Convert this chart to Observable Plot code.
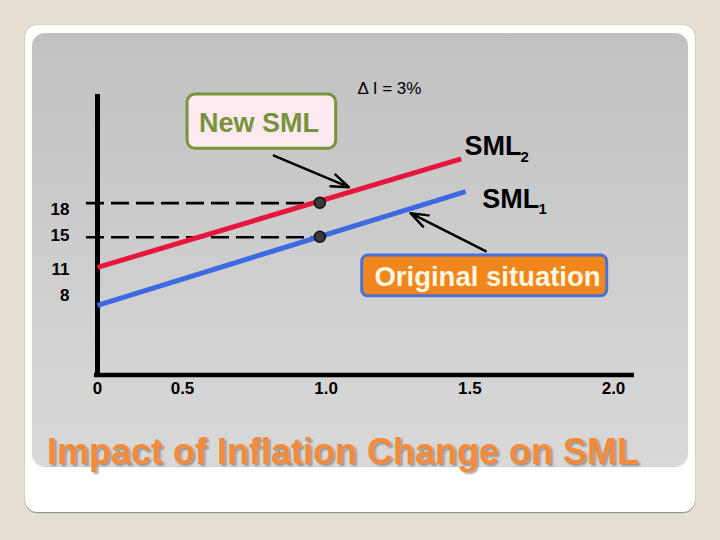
<!DOCTYPE html>
<html>
<head>
<meta charset="utf-8">
<script src="https://cdn.jsdelivr.net/npm/d3@7"></script>
<script src="https://cdn.jsdelivr.net/npm/@observablehq/plot@0.6"></script>
<style>
  body { margin: 0; }
  #slide { position: relative; width: 720px; height: 540px; background: #e4ded3; overflow: hidden; font-family: "Liberation Sans", Arial, sans-serif; }
  #card { position: absolute; left: 25px; top: 25px; width: 670px; height: 487px; background: #ffffff; border-radius: 12px; box-shadow: 0 1px 1px rgba(0,0,0,0.35), 0 0 1px rgba(0,0,0,0.3); }
  #panel { position: absolute; left: 32px; top: 33px; width: 656px; height: 433px; border-radius: 13px; background: linear-gradient(to bottom, #c1c1c1, #d9d9d9); box-shadow: 0 1px 1px rgba(0,0,0,0.2); }
  #chart { position: absolute; left: 0; top: 0; }
  #title { position: absolute; left: 47px; top: 434px; font-size: 36px; line-height: 36px; font-weight: bold; color: #f38b3b; text-shadow: 2px 2px 2px rgba(70,70,70,0.45); white-space: nowrap; }
</style>
</head>
<body>
<div id="slide">
  <div id="card"></div>
  <div id="panel"></div>
  <div id="chart"></div>
  <div id="title">Impact of Inflation Change on SML</div>
</div>
<script>
// ---- data (beta on x, required return % on y) ----
const xTicks = [0, 0.5, 1, 1.5, 2];
const xTickLabels = ["0", "0.5", "1.0", "1.5", "2.0"];
const yTicks = [8, 11, 15, 18];

const sml1 = [ { beta: 0, r: 6.9 }, { beta: 1.485, r: 20.1 } ];   // original SML (blue)
const sml2 = [ { beta: 0, r: 11.3 }, { beta: 1.47, r: 23.9 } ];   // new SML (red)
const points = [ { beta: 0.978, r: 18.8 }, { beta: 0.978, r: 14.85 } ];
const guides = [ { from: -0.065, to: 0.978, r: 18.75 }, { from: -0.065, to: 0.978, r: 14.8 } ];

// annotations (data coordinates)
const newSmlBox = [ { x1: 0.5176, x2: 1.035, y1: 25.06, y2: 31.36 } ];
const origBox = [ { x1: 1.1254, x2: 1.978, y1: 7.96, y2: 12.68 } ];
const boxLabelsGreen = [ { beta: 0.766, r: 28.0, text: "New SML" } ];
const boxLabelsOrange = [ { beta: 1.5615, r: 10.17, text: "Original situation" } ];
const lineLabels = [ { beta: 1.4814, r: 25.33, text: "SML" }, { beta: 1.543, r: 19.18, text: "SML" } ];
const lineSubs = [ { beta: 1.676, r: 24.05, text: "2" }, { beta: 1.739, r: 18.08, text: "1" } ];
const deltaLabel = [ { beta: 1.2204, r: 32.06, text: "\u0394 I = 3%" } ];
const arrows = [
  { x1: 0.818, y1: 24.28, x2: 1.079, y2: 20.61 },
  { x1: 1.555, y1: 13.18, x2: 1.2935, y2: 17.59 }
];

const yDomain = [-1.18, 31.36];
const xAxisEnd = 2.073;
const tickLabel = new Map(xTicks.map((d, i) => [d, xTickLabels[i]]));
const font = "Liberation Sans, Arial, sans-serif";

const chart = Plot.plot({
  width: 720,
  height: 540,
  marginTop: 94,
  marginBottom: 165.5,
  marginLeft: 96.5,
  marginRight: 86,
  style: { background: "transparent", fontFamily: font, fontSize: "17px", overflow: "visible" },
  x: { type: "linear", domain: [0, 0.5, 2], range: [97, 182, 613] },
  y: { domain: yDomain },
  marks: [
    Plot.axisX({ ticks: xTicks, tickFormat: d => tickLabel.get(d), tickSize: 0, tickPadding: 7, fontSize: 17, fontWeight: "bold", label: null }),
    Plot.axisY({ ticks: yTicks, tickSize: 0, tickPadding: 27.5, fontSize: 17, fontWeight: "bold", label: null }),
    // dashed guides
    Plot.ruleY(guides, { x1: "from", x2: "to", y: "r", stroke: "black", strokeWidth: 2.7, strokeDasharray: "18,7" }),
    // axis lines
    Plot.ruleX([0], { y1: -1.43, y2: yDomain[1], stroke: "black", strokeWidth: 5 }),
    Plot.ruleY([yDomain[0]], { x1: -0.018, x2: xAxisEnd, stroke: "black", strokeWidth: 4.5 }),
    // SML lines
    Plot.line(sml2, { x: "beta", y: "r", stroke: "#e8163c", strokeWidth: 5, strokeLinecap: "butt" }),
    Plot.line(sml1, { x: "beta", y: "r", stroke: "#3d6ae0", strokeWidth: 5, strokeLinecap: "butt" }),
    Plot.dot(points, { x: "beta", y: "r", r: 5.5, fill: "#3a3a3a", stroke: "#111", strokeWidth: 1.5 }),
    // boxes
    Plot.rect(newSmlBox, { x1: "x1", x2: "x2", y1: "y1", y2: "y2", fill: "#fde9f0", stroke: "#77933c", strokeWidth: 3, rx: 8 }),
    Plot.rect(origBox, { x1: "x1", x2: "x2", y1: "y1", y2: "y2", fill: "#f0861c", stroke: "#4a72d4", strokeWidth: 3, rx: 6 }),
    Plot.text(boxLabelsGreen, { x: "beta", y: "r", text: "text", fill: "#77933c", fontSize: 27, fontWeight: "bold", fontFamily: font, lineAnchor: "middle" }),
    Plot.text(boxLabelsOrange, { x: "beta", y: "r", text: "text", fill: "#fff8e2", fontSize: 27.5, fontWeight: "bold", fontFamily: font, lineAnchor: "middle" }),
    // line labels
    Plot.text(lineLabels, { x: "beta", y: "r", text: "text", fill: "black", fontSize: 27, fontWeight: "bold", fontFamily: font, textAnchor: "start", lineAnchor: "middle" }),
    Plot.text(lineSubs, { x: "beta", y: "r", text: "text", fill: "black", fontSize: 15, fontWeight: "bold", fontFamily: font, textAnchor: "start", lineAnchor: "middle" }),
    Plot.text(deltaLabel, { x: "beta", y: "r", text: "text", fill: "black", fontSize: 17, fontWeight: "normal", fontFamily: font, lineAnchor: "middle" }),
    // arrows
    Plot.arrow(arrows, { x1: "x1", y1: "y1", x2: "x2", y2: "y2", stroke: "black", strokeWidth: 2.5, headLength: 11, headAngle: 40 })
  ]
});
document.getElementById("chart").appendChild(chart);
</script>
</body>
</html>
